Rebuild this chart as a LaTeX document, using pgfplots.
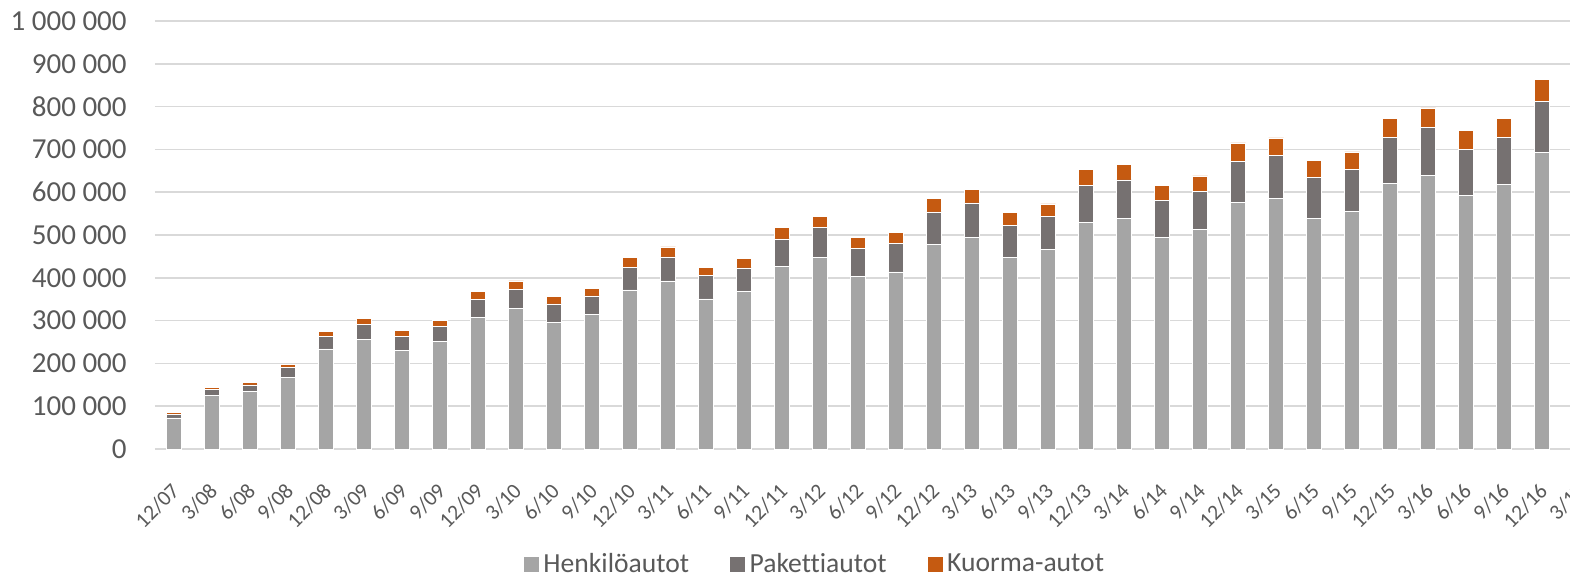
\documentclass[border=0pt]{standalone}
\usepackage{pgfplots}
\pgfplotsset{compat=1.18}
\usepackage{pgfplotstable}
\usepackage{fontspec}
\setmainfont{Carlito}[Ligatures={NoCommon}]
\definecolor{henk}{HTML}{A5A5A5}
\definecolor{pak}{HTML}{767171}
\definecolor{kuo}{HTML}{C55A11}
\definecolor{gridc}{HTML}{D9D9D9}
\definecolor{txt}{HTML}{595959}
\pgfplotstableread{
x H P K
0 73000 8000 4500
1 125000 14500 5000
2 134000 16000 6500
3 168000 22000 7000
4 234000 29000 12500
5 257000 34000 14000
6 231000 33000 13000
7 252000 34000 14000
8 308000 41000 19000
9 328000 45000 20000
10 296000 43000 17000
11 314000 44000 17000
12 372000 53000 23000
13 393000 56000 23000
14 351000 55000 19000
15 368000 55000 22000
16 427000 64000 26000
17 447000 70000 27000
18 403000 65000 26000
19 414000 67000 26000
20 478000 76000 31000
21 494000 81000 32000
22 447000 76000 30000
23 466000 77000 30000
24 530000 86000 37000
25 539000 90000 36000
26 495000 86000 35000
27 514000 88000 36000
28 577000 95000 43000
29 586000 100000 41000
30 539000 95000 41000
31 556000 97000 41000
32 621000 107000 45000
33 640000 111000 46000
34 593000 107000 44000
35 619000 109000 44000
36 693000 119000 51000
}\datatable
\begin{document}
\begin{tikzpicture}
\begin{axis}[
  scale only axis,
  width=722pt, height=214pt,
  ybar stacked, bar width=7.5pt,
  xmin=-0.5, xmax=37.5, ymin=0, ymax=1000000,
  enlarge x limits=false,
  axis lines*=left,
  y axis line style={draw=none},
  x axis line style={draw=gridc, line width=0.75pt},
  major tick length=0pt,
  ymajorgrids, grid style={draw=gridc, line width=0.75pt},
  ytick={0,100000,...,1000000},
  scaled y ticks=false,
  /pgf/number format/.cd, fixed, precision=0, 1000 sep={\ }, assume math mode=true,
  /pgfplots/.cd,
  yticklabel style={font=\fontsize{14.5}{16}\selectfont, text=txt, anchor=east, inner sep=0pt, xshift=-14pt},
  xtick={0,...,37},
  xticklabels={12/07,3/08,6/08,9/08,12/08,3/09,6/09,9/09,12/09,3/10,6/10,9/10,12/10,3/11,6/11,9/11,12/11,3/12,6/12,9/12,12/12,3/13,6/13,9/13,12/13,3/14,6/14,9/14,12/14,3/15,6/15,9/15,12/15,3/16,6/16,9/16,12/16,3/17},
  xticklabel style={font=\fontsize{10.8}{12}\selectfont, text=txt, inner sep=0pt, yshift=-19pt, xshift=1pt, rotate=45, anchor=east},
  legend columns=3,
  legend style={at={(0.4574,-0.2687)}, anchor=center, draw=none, fill=none,
    font=\fontsize{13.8}{15}\selectfont, text=txt, inner sep=0pt,
    /tikz/every even column/.append style={column sep=18pt},
    nodes={inner xsep=2pt, inner ysep=1pt}},
  legend image code/.code={\fill[#1] (0pt,-4pt) rectangle (8pt,4pt);},
]
\addplot[fill=henk, draw=white, line width=0.25pt] table[x=x, y=H] {\datatable};
\addplot[fill=pak, draw=white, line width=0.25pt] table[x=x, y=P] {\datatable};
\addplot[fill=kuo, draw=white, line width=0.25pt] table[x=x, y=K] {\datatable};
\legend{Henkilöautot, Pakettiautot, Kuorma-autot}
\end{axis}
\pgfresetboundingbox
\path (-77.5pt,-63pt) rectangle (707.5pt,224.5pt);
\end{tikzpicture}
\end{document}
